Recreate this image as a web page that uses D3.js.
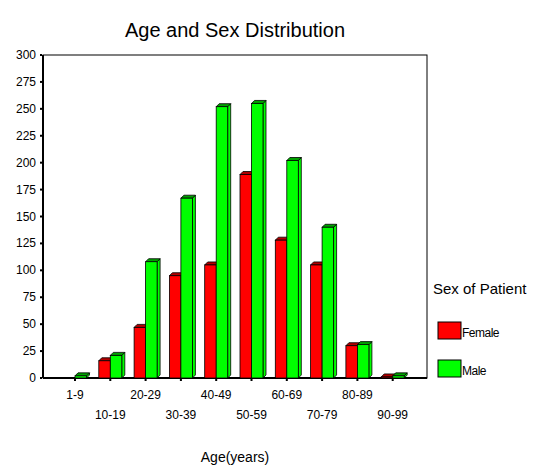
<!DOCTYPE html>
<html>
<head>
<meta charset="utf-8">
<script src="https://cdn.jsdelivr.net/npm/d3@7"></script>
<style>
  body { margin: 0; background: #fff; }
  text { font-family: "Liberation Sans", Arial, sans-serif; fill: #000; }
</style>
</head>
<body>
<svg id="chart" width="545" height="465"></svg>
<script>
const ageGroups = ["1-9", "10-19", "20-29", "30-39", "40-49", "50-59", "60-69", "70-79", "80-89", "90-99"];
const female = [0, 16, 47, 95, 105, 189, 128, 105, 30, 1];
const male = [2, 21, 108, 167, 252, 255, 202, 140, 31, 2];
const yTicks = [0, 25, 50, 75, 100, 125, 150, 175, 200, 225, 250, 275, 300];

const svg = d3.select("#chart");

// frame and plot area
const plotLeft = 43, plotRight = 427, plotTop = 55, plotBottom = 378;
const y = d3.scaleLinear().domain([0, 300]).range([plotBottom, plotTop]);
const step = 35.3;
const x = d3.scalePoint().domain(ageGroups).range([75, 75 + step * (ageGroups.length - 1)]);

const barW = 11.5, depth = 3;

svg.append("text")
  .attr("x", 235).attr("y", 37)
  .attr("text-anchor", "middle")
  .attr("font-size", "20px")
  .text("Age and Sex Distribution");

svg.append("rect")
  .attr("x", plotLeft).attr("y", plotTop)
  .attr("width", plotRight - plotLeft).attr("height", plotBottom - plotTop)
  .attr("fill", "none").attr("stroke", "#000").attr("stroke-width", 1);

// axis lines
svg.append("line").attr("x1", plotLeft).attr("x2", plotLeft).attr("y1", plotTop).attr("y2", plotBottom)
  .attr("stroke", "#000").attr("stroke-width", 2);
svg.append("line").attr("x1", plotLeft).attr("x2", plotRight).attr("y1", plotBottom).attr("y2", plotBottom)
  .attr("stroke", "#000").attr("stroke-width", 2);

const yAxis = svg.append("g");
yAxis.selectAll("rect")
  .data(yTicks)
  .enter().append("rect")
  .attr("x", 40).attr("y", d => y(d) - 1)
  .attr("width", 2).attr("height", 2)
  .attr("fill", "#000");
yAxis.selectAll("text")
  .data(yTicks)
  .enter().append("text")
  .attr("x", 36).attr("y", d => y(d) + 4)
  .attr("text-anchor", "end")
  .attr("font-size", "12px")
  .text(d => d);

// x ticks and staggered labels
svg.selectAll(".xtick")
  .data(ageGroups)
  .enter().append("rect")
  .attr("x", d => x(d) - 1).attr("y", plotBottom + 1)
  .attr("width", 2).attr("height", 2)
  .attr("fill", "#000");
svg.selectAll(".xlabel")
  .data(ageGroups)
  .enter().append("text")
  .attr("x", d => x(d))
  .attr("y", (_, i) => i % 2 === 0 ? 399 : 419)
  .attr("text-anchor", "middle")
  .attr("font-size", "12px")
  .text(d => d);

svg.append("text")
  .attr("x", 235).attr("y", 462)
  .attr("text-anchor", "middle")
  .attr("font-size", "14px")
  .text("Age(years)");

// 3d bars
function bar3d(g, x0, v, front, dark) {
  const y0 = y(v), w = barW, d = depth;
  g.append("path")
    .attr("d", `M${x0 + w},${y0} L${x0 + w + d},${y0 - d} L${x0 + w + d},${plotBottom - d} L${x0 + w},${plotBottom} Z`)
    .attr("fill", front).attr("stroke", "#000").attr("stroke-width", 0.8);
  g.append("path")
    .attr("d", `M${x0},${y0} L${x0 + d},${y0 - d} L${x0 + w + d},${y0 - d} L${x0 + w},${y0} Z`)
    .attr("fill", dark).attr("stroke", "#000").attr("stroke-width", 0.8);
  g.append("rect")
    .attr("x", x0).attr("y", y0)
    .attr("width", w).attr("height", plotBottom - y0)
    .attr("fill", front).attr("stroke", "#000").attr("stroke-width", 0.8);
}

const bars = svg.append("g");
ageGroups.forEach((a, i) => {
  const cx = x(a);
  if (female[i] > 0) bar3d(bars, cx - barW, female[i], "#ff0000", "#b00000");
  if (male[i] > 0) bar3d(bars, cx, male[i], "#00ff00", "#00a000");
});

// legend
svg.append("text")
  .attr("x", 433).attr("y", 294)
  .attr("font-size", "15px")
  .text("Sex of Patient");

const legend = [{ name: "Female", color: "#ff0000" }, { name: "Male", color: "#00ff00" }];
const lg = svg.selectAll(".leg")
  .data(legend)
  .enter().append("g")
  .attr("transform", (_, i) => `translate(438,${322 + i * 38})`);
lg.append("rect")
  .attr("width", 23).attr("height", 17)
  .attr("fill", d => d.color)
  .attr("stroke", "#000").attr("stroke-width", 1);
lg.append("text")
  .attr("x", 24).attr("y", 15)
  .attr("font-size", "12px")
  .attr("letter-spacing", "-0.5px")
  .text(d => d.name);
</script>
</body>
</html>
